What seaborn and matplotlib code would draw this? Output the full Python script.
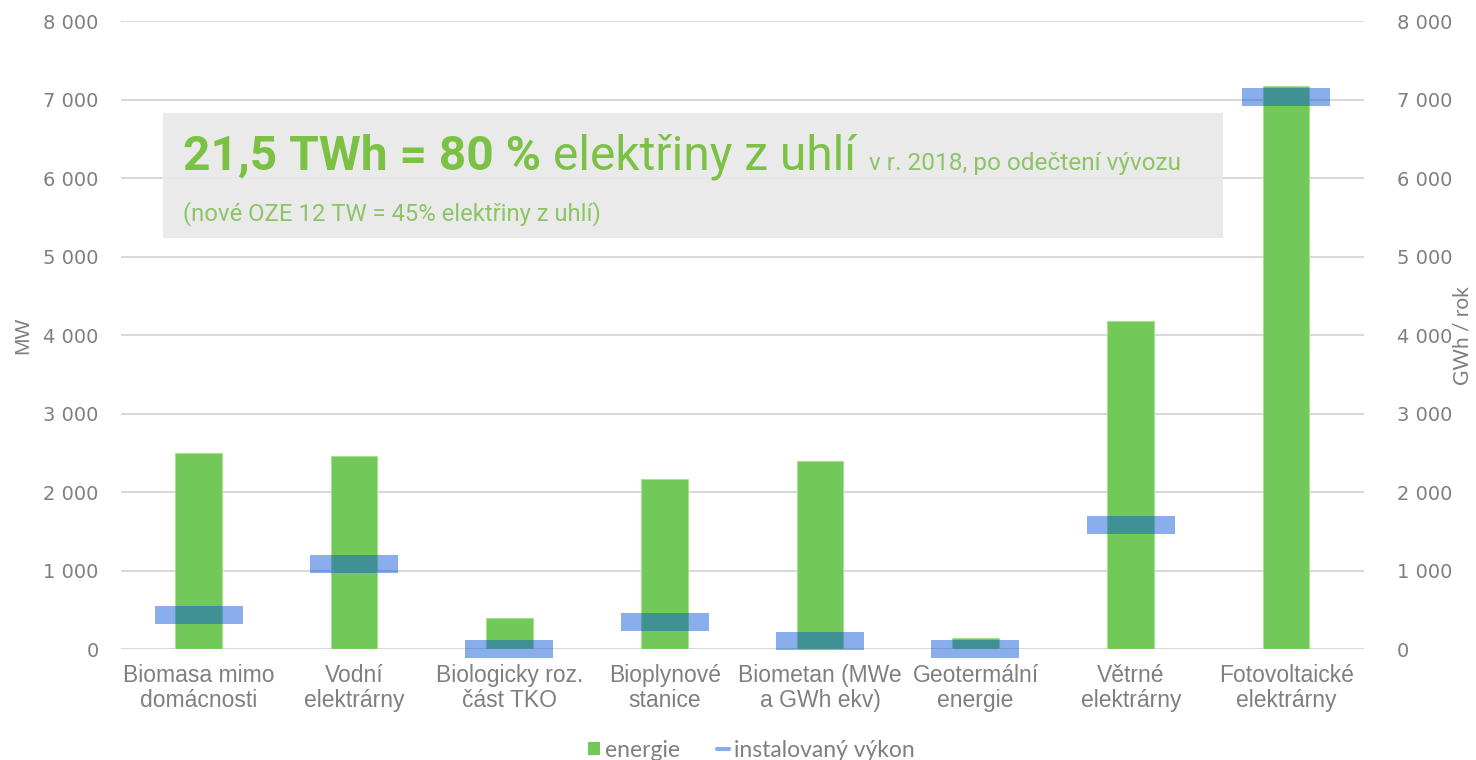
import matplotlib
matplotlib.use("Agg")
import matplotlib.pyplot as plt
import seaborn as sns
import pandas as pd
from matplotlib.patches import Patch, Rectangle
from matplotlib.lines import Line2D
from matplotlib.ticker import FuncFormatter, MultipleLocator

# data
categories = ["Biomasa mimo\ndomácnosti", "Vodní\nelektrárny", "Biologicky roz.\nčást TKO",
              "Bioplynové\nstanice", "Biometan (MWe\na GWh ekv)", "Geotermální\nenergie",
              "Větrné\nelektrárny", "Fotovoltaické\nelektrárny"]
energie_gwh = [2500, 2465, 400, 2165, 2395, 140, 4180, 7170]
vykon_mw = [440, 1080, 0, 350, 100, 0, 1580, 7030]

GREEN = "#72c858"
BLUE = (10 / 255, 85 / 255, 215 / 255)
GRAY = "#7f7f7f"
TXT_GREEN = "#7bc143"

sns.set_style("white")
plt.rcParams["font.family"] = ["Liberation Sans", "DejaVu Sans"]

df = pd.DataFrame({"kat": categories, "energie": energie_gwh, "vykon": vykon_mw})

fig = plt.figure(figsize=(14.76, 7.6), dpi=100)
ax = fig.add_axes([0.082, 0.146, 0.842, 0.826])
ax2 = ax.twinx()

# energy bars on the right axis (GWh / rok)
sns.barplot(data=df, x="kat", y="energie", color=GREEN, width=0.3, saturation=1,
            ax=ax2, zorder=2)
for p in ax2.patches:
    p.set_edgecolor("#a8e08f")
    p.set_linewidth(0.8)

# installed capacity as wide dashes on the left axis (MW)
band = [(-1, -0.2), (1, -0.2), (1, 0.2), (-1, 0.2), (-1, -0.2)]
sns.stripplot(data=df, x="kat", y="vykon", jitter=False, marker=band, size=64,
              color=BLUE, alpha=0.48, linewidth=0, ax=ax, clip_on=False, zorder=3)

# put the MW axis on top so the bands overlay the bars
ax.set_zorder(ax2.get_zorder() + 1)
ax.patch.set_visible(False)

fmt = FuncFormatter(lambda v, _: f"{int(v):,}".replace(",", " "))
for a in (ax, ax2):
    a.set_ylim(0, 8000)
    a.yaxis.set_major_locator(MultipleLocator(1000))
    a.yaxis.set_major_formatter(fmt)
    a.set_xlim(-0.5, len(categories) - 0.5)
    for s in a.spines.values():
        s.set_visible(False)
    a.tick_params(axis="y", length=0, labelsize=14, labelcolor=GRAY,
                  labelfontfamily="DejaVu Sans")
    a.set_xlabel("")
ax.tick_params(axis="y", pad=16)
ax2.tick_params(axis="y", pad=24)

ax2.grid(axis="y", color="#d9d9d9", linewidth=1.5, zorder=0.5)
ax2.set_axisbelow(True)
ax.grid(False)
ax.tick_params(axis="x", length=0, labelsize=16.5, labelcolor=GRAY, pad=11)
ax2.tick_params(axis="x", length=0)
ax2.set_xticks([])
ax.set_xticks(range(len(categories)))
ax.set_xticklabels(categories, linespacing=1.12)

ax.set_ylabel("MW", color=GRAY, fontsize=15, labelpad=8)
ax2.set_ylabel("GWh / rok", color=GRAY, fontsize=15, family="Lato", labelpad=0)

# grey info box
box = Rectangle((163 / 1476, 1 - 238 / 760), (1223 - 163) / 1476, (238 - 113) / 760,
                transform=fig.transFigure, facecolor="#e8e8e8", edgecolor="none",
                alpha=0.9, zorder=1.5)
ax2.add_artist(box)
box.set_clip_on(False)

# headline built from pieces placed one after another
fig.canvas.draw()
renderer = fig.canvas.get_renderer()
x0 = 183 / 1476
y_main = 1 - 170 / 760
pieces = [("21,5 TWh = 80 %", 34.5, "bold", TXT_GREEN, 0.008),
          ("elektřiny z uhlí", 34.5, "normal", TXT_GREEN, 0.009),
          ("v r. 2018, po odečtení vývozu", 17.6, "normal", "#8cc466", 0)]
x = x0
for txt, size, weight, col, gap in pieces:
    t = fig.text(x, y_main, txt, fontsize=size, fontweight=weight, color=col,
                 family="Roboto", va="baseline", ha="left", zorder=5)
    bb = t.get_window_extent(renderer)
    x = bb.x1 / fig.bbox.width + gap

fig.text(x0, 1 - 220 / 760, "(nové OZE 12 TW = 45% elektřiny z uhlí)", fontsize=17.2,
         color="#8cc466", family="Roboto", va="baseline", ha="left", zorder=5)

handles = [Patch(facecolor=GREEN, edgecolor="none", label="energie"),
           Line2D([0], [0], color=(0.53, 0.68, 0.93), lw=3, label="instalovaný výkon")]
leg = fig.legend(handles=handles, loc="lower center", bbox_to_anchor=(0.509, -0.028),
                 ncol=2, frameon=False, handlelength=0.55, handleheight=0.55,
                 handletextpad=0.2, columnspacing=1.6,
                 prop={"family": "Lato", "size": 16.5})
for t in leg.get_texts():
    t.set_color(GRAY)

fig.savefig("out.png", dpi=100)
plt.close(fig)
